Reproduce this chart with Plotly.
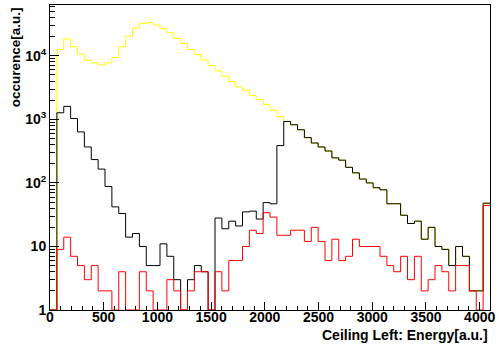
import numpy as np
import plotly.graph_objects as go

# 64 bins of width 64 covering the 12-bit energy range
bin_width = 64
n_bins = 64
edges = np.arange(n_bins + 1) * bin_width

# bin contents (counts)
all_events = [
    0, 12600, 18500, 13900, 10600, 8550, 7750, 7200, 7750, 9400,
    13900, 20400, 27300, 32400, 33200, 30500, 26700, 23100, 18800, 15700,
    12600, 10500, 8550, 7040, 5790, 4770, 3930, 3240, 2870, 2370,
    2050, 1710, 1390, 1110, 928, 824, 687, 516, 425, 368,
    318, 248, 228, 176, 144, 115, 100, 84, 78, 47,
    47, 31, 23, 25, 13, 20, 10, 9, 5, 10,
    7, 2, 2, 48,
]
selected_events = [
    0, 1270, 1600, 1030, 635, 368, 233, 165, 88, 42,
    33, 14, 16, 10, 5, 5, 11, 7, 3, 0,
    3, 5, 4, 0, 28, 19, 25, 21, 35, 36,
    27, 49, 47, 387, 928, 824, 687, 516, 425, 368,
    318, 248, 228, 176, 144, 115, 100, 84, 78, 47,
    47, 31, 23, 25, 13, 20, 10, 9, 5, 10,
    7, 2, 2, 48,
]
tagged_events = [
    0, 9, 14, 7, 5, 3, 5, 2, 2, 0,
    4, 0, 0, 4, 2, 0, 0, 3, 2, 0,
    2, 4, 4, 0, 4, 2, 6, 6, 10, 18,
    16, 34, 29, 15, 15, 18, 18, 12, 20, 12,
    6, 13, 6, 7, 13, 10, 10, 10, 7, 5,
    4, 7, 3, 7, 2, 3, 5, 4, 2, 5,
    5, 2, 0, 44,
]

x_major = [0, 500, 1000, 1500, 2000, 2500, 3000, 3500, 4000]
y_major = [1, 10, 100, 1000, 10000]
y_major_text = ["1", "10", "10<sup>2</sup>", "10<sup>3</sup>", "10<sup>4</sup>"]
y_minor = [m * 10 ** d for d in range(5) for m in range(2, 10) if m * 10 ** d < 62000]

FLOOR = 1.0  # empty bins sit on the bottom of the log axis


def step_y(values):
    v = np.asarray(values, dtype=float)
    v = np.where(v > 0, v, FLOOR)
    return np.append(v, v[-1])


fig = go.Figure()
for vals, color in [(all_events, "#ffff00"), (selected_events, "#000000"), (tagged_events, "#ff0000")]:
    fig.add_trace(go.Scatter(
        x=edges, y=step_y(vals), mode="lines",
        line=dict(color=color, width=1, shape="hv"),
        showlegend=False, hoverinfo="skip",
    ))

font = dict(family="Liberation Sans, Arial, sans-serif", size=14, color="black", weight="bold")

fig.update_layout(
    width=499, height=349,
    margin=dict(l=50, r=4, t=5, b=39),
    paper_bgcolor="white", plot_bgcolor="white",
    font=font,
    xaxis=dict(
        range=[0, 4096], tickmode="array", tickvals=x_major,
        ticks="inside", ticklen=8, tickcolor="black", tickwidth=1,
        minor=dict(dtick=100, tick0=0, ticks="inside", ticklen=4, tickcolor="black"),
        showline=True, linecolor="black", linewidth=1, mirror=True,
        showgrid=False, zeroline=False, tickfont=font,
        ticklabeloverflow="allow", ticklabelstandoff=-6,
    ),
    yaxis=dict(
        type="log", range=[0, 4.80], tickmode="array",
        tickvals=y_major, ticktext=y_major_text,
        ticks="inside", ticklen=9, tickcolor="black", tickwidth=1,
        minor=dict(tickmode="array", tickvals=y_minor, ticks="inside", ticklen=5, tickcolor="black"),
        showline=True, linecolor="black", linewidth=1, mirror=True,
        showgrid=False, zeroline=False, tickfont=font,
    ),
    annotations=[
        dict(text="Ceiling Left: Energy[a.u.]", xref="paper", yref="paper",
             x=1.0, y=-0.082, xanchor="right", yanchor="middle",
             showarrow=False, font=font),
        dict(text="occurence[a.u.]", xref="paper", yref="paper",
             x=-0.079, y=1.0, xanchor="center", yanchor="top", textangle=-90,
             showarrow=False, font=dict(font, size=13.5)),
    ],
)

fig.write_html("out.html")
